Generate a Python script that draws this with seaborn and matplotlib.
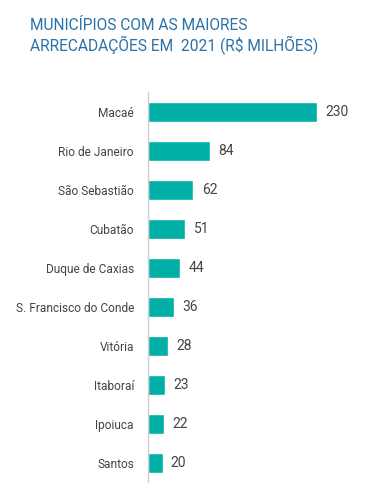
import matplotlib
matplotlib.use("Agg")
import matplotlib.pyplot as plt
import seaborn as sns
import pandas as pd

municipios = [
    "Macaé", "Rio de Janeiro", "São Sebastião", "Cubatão", "Duque de Caxias",
    "S. Francisco do Conde", "Vitória", "Itaboraí", "Ipoiuca", "Santos",
]
arrecadacao = [230, 84, 62, 51, 44, 36, 28, 23, 22, 20]

df = pd.DataFrame({"municipio": municipios, "valor": arrecadacao})

sns.set_theme(style="white")
plt.rcParams["font.family"] = ["Roboto", "DejaVu Sans"]

fig = plt.figure(figsize=(3.65, 4.88), dpi=100)
ax = fig.add_axes([0.405, 0.012, 0.584, 0.799])

sns.barplot(data=df, x="valor", y="municipio", color="#00AFA5",
            width=0.52, saturation=1, ax=ax)

for p, v in zip(ax.patches, arrecadacao):
    ax.annotate(str(v), (p.get_width(), p.get_y() + p.get_height() / 2),
                xytext=(6, 0), textcoords="offset points",
                ha="left", va="center", fontsize=10, color="#444444")

ax.set_xlim(0, 290)
ax.set_ylim(9.5, -0.5)
ax.set_xlabel("")
ax.set_ylabel("")
ax.set_xticks([])
ax.tick_params(axis="y", length=0, pad=10, labelsize=8.6, labelcolor="#444444")
for s in ["top", "right", "bottom"]:
    ax.spines[s].set_visible(False)
ax.spines["left"].set_color("#cfcfcf")
ax.spines["left"].set_linewidth(1.0)

fig.text(0.082, 0.925, "MUNICÍPIOS COM AS MAIORES\nARRECADAÇÕES EM  2021 (R$ MILHÕES)",
         ha="left", va="center", fontsize=11.2, color="#2A72A8", linespacing=1.2)

fig.savefig("out.png", dpi=100)
